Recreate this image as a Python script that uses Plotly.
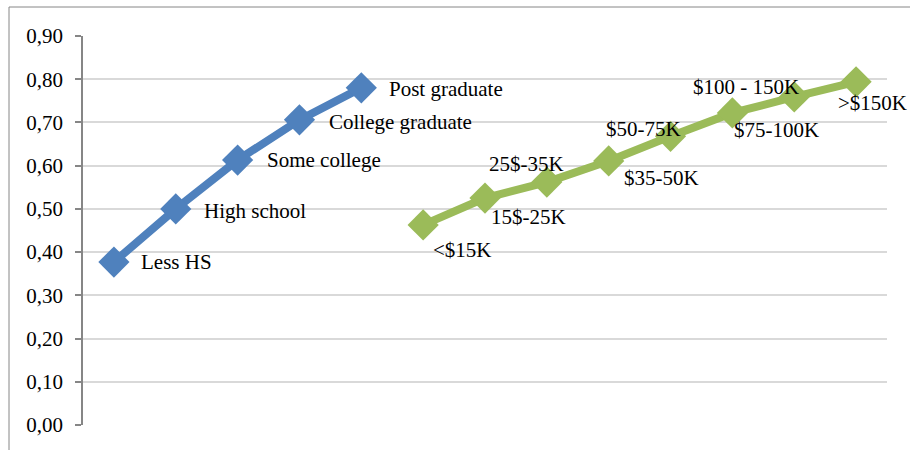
import plotly.graph_objects as go

# Share by education level and by household income
education = ["Less HS", "High school", "Some college", "College graduate", "Post graduate"]
education_values = [0.377, 0.500, 0.613, 0.706, 0.780]

income = ["<$15K", "15$-25K", "25$-35K", "$35-50K", "$50-75K", "$75-100K", "$100 - 150K", ">$150K"]
income_values = [0.463, 0.525, 0.562, 0.611, 0.668, 0.722, 0.759, 0.794]

y_ticks = [0.0, 0.1, 0.2, 0.3, 0.4, 0.5, 0.6, 0.7, 0.8, 0.9]

BLUE = "#4F81BD"
GREEN = "#9BBB59"
FONT = "Liberation Serif, Times New Roman, serif"
FS = 21

# label placement: (xshift, yshift) in pixels, text anchored at its left edge
edu_offsets = [(25, 0), (26, -2), (27, 0), (28, -2), (26, -1)]
inc_offsets = [(8, -25), (4, -19), (-60, 18), (13, -17), (-67, 7), (0, -17), (-103, 10), (-20, -21)]

fig = go.Figure()
fig.add_trace(go.Scatter(
    x=education, y=education_values, mode="lines+markers",
    line=dict(color=BLUE, width=8),
    marker=dict(symbol="diamond", size=24, color=BLUE),
    hoverinfo="skip", showlegend=False,
))
fig.add_trace(go.Scatter(
    x=income, y=income_values, mode="lines+markers",
    line=dict(color=GREEN, width=8),
    marker=dict(symbol="diamond", size=24, color=GREEN),
    hoverinfo="skip", showlegend=False,
))

annotations = []
for names, vals, offs in ((education, education_values, edu_offsets),
                          (income, income_values, inc_offsets)):
    for n, v, (dx, dy) in zip(names, vals, offs):
        annotations.append(dict(
            x=n, y=v, text=n, showarrow=False,
            xanchor="left", yanchor="middle", xshift=dx, yshift=dy,
            font=dict(family=FONT, size=FS, color="#000000"),
        ))

ml, mr, mt, mb = 83, 23, 36, 25
W, H = 910, 450
pw, ph = W - ml - mr, H - mt - mb

fig.update_layout(
    width=W, height=H,
    margin=dict(l=ml, r=mr, t=mt, b=mb, pad=0),
    paper_bgcolor="white", plot_bgcolor="white",
    separators=", ",
    font=dict(family=FONT, size=FS, color="#000000"),
    annotations=annotations,
    shapes=[dict(
        type="rect", xref="paper", yref="paper",
        x0=(9 - ml) / pw, x1=(W + 5 - ml) / pw,
        y0=-(mb + 5) / ph, y1=(H - mb - 7) / ph,
        line=dict(color="#868686", width=1), layer="below",
    )],
)
fig.update_xaxes(
    type="category", categoryorder="array", categoryarray=education + income,
    range=[-0.5, len(education) + len(income) - 0.5],
    showticklabels=False, showgrid=False, zeroline=False, showline=False, ticks="",
)
fig.update_yaxes(
    range=[0, 0.9], tickvals=y_ticks, tickformat=".2f",
    showgrid=True, gridcolor="#d9d9d9", gridwidth=2,
    zeroline=False, showline=True, linecolor="#868686", linewidth=1.5,
    ticks="outside", ticklen=6, tickcolor="#868686", tickwidth=1.5,
    ticklabelstandoff=8,
    tickfont=dict(family=FONT, size=FS, color="#000000"),
)

fig.write_html("out.html")
